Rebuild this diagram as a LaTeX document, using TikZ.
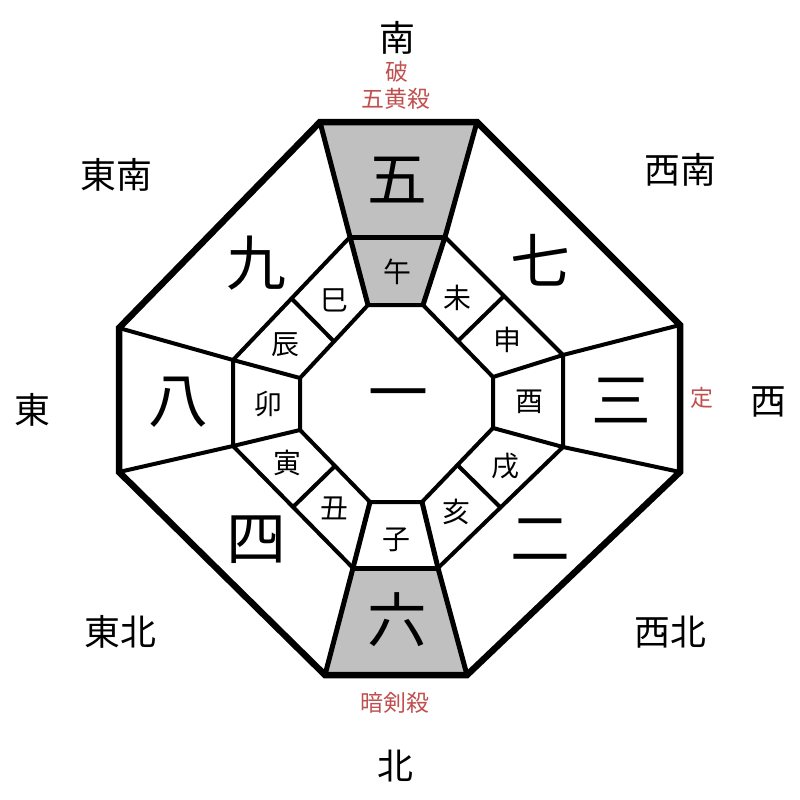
\documentclass[tikz,border=0pt]{standalone}
\usepackage{fontspec}
\setmainfont{Noto Sans CJK JP}
\usetikzlibrary{calc}

\definecolor{kyoRed}{RGB}{192,80,80}
\definecolor{sectorGray}{RGB}{192,192,192}

\tikzset{
  bigNum/.style={font=\fontsize{60}{60}\selectfont},
  zodiac/.style={font=\fontsize{28}{28}\selectfont},
  direction/.style={font=\fontsize{36}{36}\selectfont},
  omen/.style={font=\fontsize{23}{23}\selectfont, text=kyoRed},
  frameLine/.style={line width=6.5bp},
  sideLine/.style={line width=5bp},
  ringLine/.style={line width=4bp},
}

\begin{document}
\begin{tikzpicture}[x=1bp, y=-1bp, line join=miter]
  %--- canvas
  \useasboundingbox (0,0) rectangle (800,800);

  %--- outer octagon
  \coordinate (o1) at (320,122);
  \coordinate (o2) at (477,122);
  \coordinate (o3) at (680,325);
  \coordinate (o4) at (680,472);
  \coordinate (o5) at (467,675);
  \coordinate (o6) at (325,675);
  \coordinate (o7) at (119,472);
  \coordinate (o8) at (119,328);

  %--- middle ring
  \coordinate (m1) at (350,237);
  \coordinate (m2) at (445,237);
  \coordinate (m3) at (563,355);
  \coordinate (m4) at (563,447);
  \coordinate (m5) at (438,568);
  \coordinate (m6) at (353,568);
  \coordinate (m7) at (233,446);
  \coordinate (m8) at (233,360);

  %--- inner octagon
  \coordinate (i1) at (368,305);
  \coordinate (i2) at (423,305);
  \coordinate (i3) at (493,377);
  \coordinate (i4) at (493,428);
  \coordinate (i5) at (422,502);
  \coordinate (i6) at (370,502);
  \coordinate (i7) at (300,430);
  \coordinate (i8) at (300,378);

  %--- grey sectors (south on top, north below)
  \fill[sectorGray] (o1) -- (o2) -- (m2) -- (i2) -- (i1) -- (m1) -- cycle;
  \fill[sectorGray] (m6) -- (m5) -- (o5) -- (o6) -- cycle;

  %--- rings
  \draw[ringLine] (i1) -- (i2) -- (i3) -- (i4) -- (i5) -- (i6) -- (i7) -- (i8) -- cycle;
  \draw[ringLine] (m2) -- (m3) -- (m4) -- (m5);
  \draw[ringLine] (m6) -- (m7) -- (m8) -- (m1);
  \draw[sideLine] (m1) -- (m2);
  \draw[sideLine] (m6) -- (m5);

  %--- spokes
  \foreach \k in {3,4,7,8}
    \draw[ringLine] (o\k) -- (m\k) -- (i\k);
  \foreach \k in {1,2,5,6}
    \draw[sideLine] (o\k) -- (m\k) -- (i\k);

  %--- dividers in the diagonal cells
  \draw[ringLine] ($(m8)!0.5!(m1)$) -- ($(i8)!0.5!(i1)$);
  \draw[ringLine] ($(m2)!0.5!(m3)$) -- ($(i2)!0.5!(i3)$);
  \draw[ringLine] ($(m4)!0.5!(m5)$) -- ($(i4)!0.5!(i5)$);
  \draw[ringLine] ($(m6)!0.5!(m7)$) -- ($(i6)!0.5!(i7)$);

  %--- outer frame
  \draw[frameLine] (o1) -- (o2) -- (o3) -- (o4) -- (o5) -- (o6) -- (o7) -- (o8) -- cycle;

  %--- stars
  \node[bigNum] (centre) at (398,402) {一};
  \node[bigNum] (south)  at (397,180) {五};
  \node[bigNum] (sw)     at (540,260) {七};
  \node[bigNum] (west)   at (621,400) {三};
  \node[bigNum] (nw)     at (540,540) {二};
  \node[bigNum] (north)  at (397,620) {六};
  \node[bigNum] (ne)     at (256,540) {四};
  \node[bigNum] (east)   at (178,402) {八};
  \node[bigNum] (se)     at (256,263) {九};

  %--- zodiac signs
  \node[zodiac] (uma)   at (397,272) {午};
  \node[zodiac] (hitsuji) at (457,298) {未};
  \node[zodiac] (saru)  at (507,340) {申};
  \node[zodiac] (tori)  at (529,402) {酉};
  \node[zodiac] (inu)   at (505,466) {戌};
  \node[zodiac] (i)     at (456,512) {亥};
  \node[zodiac] (ne0)   at (396,540) {子};
  \node[zodiac] (ushi)  at (334,508) {丑};
  \node[zodiac] (tora)  at (287,463) {寅};
  \node[zodiac] (u)     at (268,404) {卯};
  \node[zodiac] (tatsu) at (285,345) {辰};
  \node[zodiac] (mi)    at (334,300) {巳};

  %--- directions
  \node[direction] (dS)  at (397,38)  {南};
  \node[direction] (dSW) at (680,170) {西南};
  \node[direction] (dW)  at (768,402) {西};
  \node[direction] (dNW) at (670,632) {西北};
  \node[direction] (dN)  at (395,766) {北};
  \node[direction] (dNE) at (120,632) {東北};
  \node[direction] (dE)  at (32,410)  {東};
  \node[direction] (dSE) at (116,175) {東南};

  %--- omens
  \node[omen] (ha)      at (397,72)  {破};
  \node[omen] (gooSatsu) at (396,99) {五黄殺};
  \node[omen] (jo)      at (702,398) {定};
  \node[omen] (anken)   at (395,703) {暗剣殺};
\end{tikzpicture}
\end{document}
